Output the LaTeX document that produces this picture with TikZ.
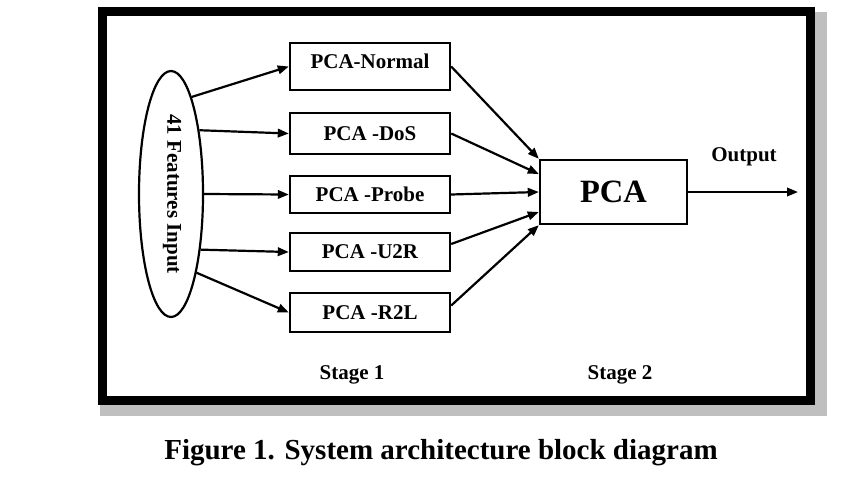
\documentclass[tikz,border=0pt]{standalone}
\usepackage{fontspec}
\setmainfont{Liberation Serif}
\usetikzlibrary{shapes.geometric,arrows.meta,calc}
\begin{document}
\begin{tikzpicture}[x=1pt,y=-1pt,
  txt/.style={font=\fontsize{21}{24}\selectfont\bfseries, inner sep=0pt},
  pbox/.style={draw, line width=2.4pt, minimum width=160pt, inner sep=0pt},
  arr/.style={line width=2.2pt, -{Triangle[length=11pt,width=8.5pt]}}]
\useasboundingbox (0,0) rectangle (848,480);
% shadow and frame
\fill[gray!50] (100,12) rectangle (827,416);
\draw[line width=9pt, fill=white] (102.5,11.5) rectangle (810.5,400.5);
% input ellipse
\node[draw, ellipse, line width=2.2pt, minimum width=64pt, minimum height=246pt, inner sep=0pt] (ell) at (171,194) {};
\node[txt, rotate=-90] (elltxt) at (172,194) {41 Features Input};
% stage-1 boxes
\node[pbox, minimum height=47pt] (nrm) at (370,66.5) {};
\node[txt] (nrmtxt) at (370,61) {PCA-Normal};
\node[pbox, minimum height=41pt, txt] (dos) at (370,133.5) {PCA -DoS};
\node[pbox, minimum height=37pt, txt] (prb) at (370,194.5) {PCA -Probe};
\node[pbox, minimum height=38pt, txt] (u2r) at (370,252) {PCA -U2R};
\node[pbox, minimum height=39pt, txt] (r2l) at (370,312.5) {PCA -R2L};
% stage-2 box
\node[pbox, minimum width=147pt, minimum height=64pt, font=\fontsize{32.5}{36}\selectfont\bfseries] (pca) at (613.5,192) {PCA};
% labels
\node[txt] (outtxt) at (744,157) {Output};
\node[txt] (st1) at (352,375) {Stage 1};
\node[txt] (st2) at (620,375) {Stage 2};
\node[font=\fontsize{29}{33}\selectfont\bfseries, inner sep=0pt] (cap) at (441,453) {Figure 1. System architecture block diagram};
\coordinate (out) at (798,192);
% arrows ellipse -> boxes
\draw[arr] (ell.78) -- (nrm.west);
\draw[arr] (ell.66.5) -- (dos.west);
\draw[arr] (ell.east) -- (prb.west);
\draw[arr] (ell.-62) -- (u2r.west);
\draw[arr] (ell.-72) -- (r2l.west);
% arrows boxes -> PCA
\draw[arr] (nrm.east) -- (pca.north west);
\draw[arr] (dos.east) -- ($(pca.west)+(0,-18)$);
\draw[arr] (prb.east) -- (pca.west);
\draw[arr] ($(u2r.east)+(0,-8)$) -- ($(pca.west)+(0,20)$);
\draw[arr] ($(r2l.east)+(0,-7)$) -- (pca.south west);
% output
\draw[arr] (pca.east) -- (out);
\end{tikzpicture}
\end{document}
